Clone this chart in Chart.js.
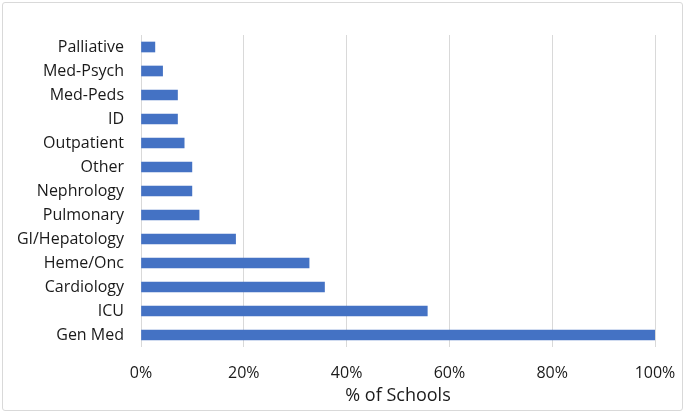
<!DOCTYPE html>
<html>
<head>
<meta charset="utf-8">
<script src="https://cdn.jsdelivr.net/npm/chart.js@4"></script>
<style>
    html, body { margin: 0; padding: 0; background: #fff; }
    #wrap {
        position: absolute; left: 2px; top: 2px;
        width: 679px; height: 407px;
        border: 1px solid #d9d9d9; border-radius: 3px;
    }
    #chart { position: absolute; left: -3px; top: -3px; }
</style>
</head>
<body>
<div id="wrap"><canvas id="chart" width="685" height="413"></canvas></div>
<script>
// categories, top to bottom
const categories = ['Palliative', 'Med-Psych', 'Med-Peds', 'ID', 'Outpatient', 'Other',
    'Nephrology', 'Pulmonary', 'GI/Hepatology', 'Heme/Onc', 'Cardiology', 'ICU', 'Gen Med'];

// % of schools
const percentSchools = [2.7, 4.2, 7.1, 7.1, 8.4, 9.9, 9.9, 11.3, 18.4, 32.7, 35.7, 55.7, 100];

const xTicks = [0, 20, 40, 60, 80, 100];

const fontFamily = "'Open Sans', 'Noto Sans', sans-serif";
const textColor = '#1a1a1a';

const ctx = document.getElementById('chart').getContext('2d');

new Chart(ctx, {
    type: 'bar',
    data: {
        labels: categories,
        datasets: [{
            label: '% of Schools',
            data: percentSchools,
            backgroundColor: '#4472c4',
            barThickness: 10
        }]
    },
    options: {
        indexAxis: 'y',
        responsive: false,
        animation: false,
        layout: { padding: { top: 35, right: 30, left: 0, bottom: 6 } },
        plugins: {
            legend: { display: false },
            tooltip: { enabled: false }
        },
        scales: {
            x: {
                min: 0,
                max: 100,
                afterBuildTicks: (scale) => {
                    scale.ticks = xTicks.map(v => ({ value: v }));
                },
                afterFit: (scale) => {
                    scale.height = 60;
                    scale.paddingLeft = 0;
                    scale.paddingRight = 0;
                },
                grid: { color: '#d9d9d9', drawTicks: false },
                border: { display: false },
                ticks: {
                    padding: 17,
                    color: textColor,
                    font: { family: fontFamily, size: 16 },
                    callback: (v) => v + '%'
                },
                title: {
                    display: true,
                    text: '% of Schools',
                    color: textColor,
                    padding: { top: 0, bottom: 0 },
                    font: { family: fontFamily, size: 18 }
                }
            },
            y: {
                afterFit: (scale) => { scale.width = 141; },
                grid: { display: false },
                border: { display: false },
                ticks: {
                    padding: 9,
                    color: textColor,
                    font: { family: fontFamily, size: 16 }
                }
            }
        }
    }
});
</script>
</body>
</html>
